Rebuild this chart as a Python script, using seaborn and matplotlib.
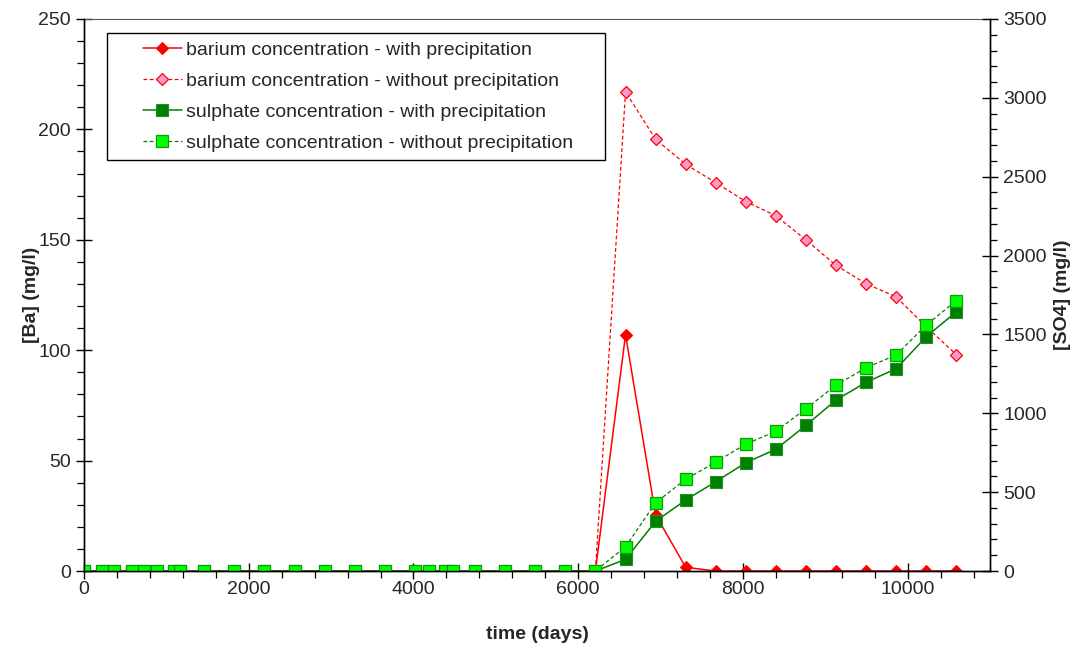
import numpy as np
import pandas as pd
import matplotlib
matplotlib.use("Agg")
import matplotlib.pyplot as plt
from matplotlib.patches import Rectangle
from matplotlib.ticker import MultipleLocator
import seaborn as sns

# Simulation output times (days)
time_days = [0, 219, 365, 584, 730, 889, 1096, 1163, 1461, 1826, 2191, 2557,
             2922, 3287, 3653, 4018, 4184, 4383, 4480, 4748, 5114, 5479, 5844,
             6209, 6575, 6940, 7305, 7670, 8036, 8401, 8766, 9131, 9497, 9862,
             10227, 10592]

# Barium concentration (mg/l)
ba_with = [0] * 24 + [107.0, 25.5, 1.7, 0, 0, 0, 0, 0, 0, 0, 0, 0]
ba_without = [0] * 24 + [217.0, 195.5, 184.2, 175.9, 167.3, 160.9, 149.9,
                         138.4, 130.1, 124.1, 110.6, 98.0]

# Sulphate concentration (mg/l)
so4_with = [0] * 24 + [74, 315, 450, 566, 687, 772, 924, 1084, 1197, 1283,
                       1486, 1644]
so4_without = [0] * 24 + [154, 433, 581, 691, 805, 886, 1029, 1179, 1289,
                          1370, 1560, 1714]

labels = ["barium concentration - with precipitation",
          "barium concentration - without precipitation",
          "sulphate concentration - with precipitation",
          "sulphate concentration - without precipitation"]

df = pd.DataFrame({"t": time_days, "ba_with": ba_with, "ba_without": ba_without,
                   "so4_with": so4_with, "so4_without": so4_without})

sns.set_theme(style="ticks")
plt.rcParams["font.family"] = ["Liberation Sans", "DejaVu Sans"]
plt.rcParams["font.size"] = 14

fig = plt.figure(figsize=(10.77, 6.52), dpi=100)
ax = fig.add_axes([0.078, 0.1242, 0.8412, 0.8467])
ax2 = ax.twinx()

dash = (0, (3, 2))
sns.lineplot(data=df, x="t", y="ba_with", ax=ax, color="#ff0000", lw=1.1,
             marker="D", markersize=6.5, markerfacecolor="#ff0000",
             markeredgecolor="#ff0000", markeredgewidth=0.8,
             errorbar=None, label=labels[0], legend=False)
sns.lineplot(data=df, x="t", y="ba_without", ax=ax, color="#ff0000", lw=0.9,
             linestyle=dash, marker="D", markersize=5.8,
             markerfacecolor="#ff99cc", markeredgecolor="#ff0000",
             markeredgewidth=0.9, errorbar=None, label=labels[1], legend=False)
sns.lineplot(data=df, x="t", y="so4_with", ax=ax2, color="#008000", lw=1.1,
             marker="s", markersize=8.2, markerfacecolor="#008000",
             markeredgecolor="#1f8f1f", markeredgewidth=0.8,
             errorbar=None, label=labels[2], legend=False)
sns.lineplot(data=df, x="t", y="so4_without", ax=ax2, color="#008000", lw=0.9,
             linestyle=dash, marker="s", markersize=8.2,
             markerfacecolor="#00ff00", markeredgecolor="#119911",
             markeredgewidth=0.9, errorbar=None, label=labels[3], legend=False)

# Axes ranges and ticks
ax.set_xlim(0, 11000)
ax.set_ylim(0, 250)
ax2.set_ylim(0, 3500)
ax.xaxis.set_major_locator(MultipleLocator(2000))
ax.xaxis.set_minor_locator(MultipleLocator(400))
ax.yaxis.set_major_locator(MultipleLocator(50))
ax.yaxis.set_minor_locator(MultipleLocator(10))
ax2.yaxis.set_major_locator(MultipleLocator(500))
ax2.yaxis.set_minor_locator(MultipleLocator(100))

for a in (ax, ax2):
    a.tick_params(which="major", direction="inout", length=11, width=1,
                  color="black", labelsize=14, pad=4)
    a.tick_params(which="minor", direction="out", length=5, width=0.9,
                  color="black")
    for s in a.spines.values():
        s.set_color("black")
        s.set_linewidth(1.0)
ax.tick_params(axis="x", which="major", pad=2)
ax.spines["top"].set_color("#555555")
ax.spines["top"].set_linewidth(0.8)
ax2.spines["top"].set_visible(False)

ax.set_xlabel("time (days)", fontweight="bold", fontsize=14)
ax.set_ylabel("[Ba] (mg/l)", fontweight="bold", fontsize=14)
ax2.set_ylabel("[SO4] (mg/l)", fontweight="bold", fontsize=14, rotation=90)
ax.xaxis.set_label_coords(0.5, -0.10)
ax.yaxis.set_label_coords(-0.049, 0.5)
ax2.yaxis.set_label_coords(1.071, 0.5)

# Legend with a square-cornered box
h1, l1 = ax.get_legend_handles_labels()
h2, l2 = ax2.get_legend_handles_labels()
leg = ax2.legend(h1 + h2, l1 + l2, loc="upper left",
                 bbox_to_anchor=(0.0651, 0.959), borderaxespad=0,
                 borderpad=0, frameon=False, fontsize=14, handlelength=2.0,
                 handletextpad=0.2, labelspacing=0.68)
ax2.add_patch(Rectangle((0.0254, 0.7437), 0.5497, 0.2309,
                        transform=ax2.transAxes, facecolor="white",
                        edgecolor="black", lw=1.0, zorder=4))
leg.set_zorder(5)

fig.savefig("out.png", dpi=100)
